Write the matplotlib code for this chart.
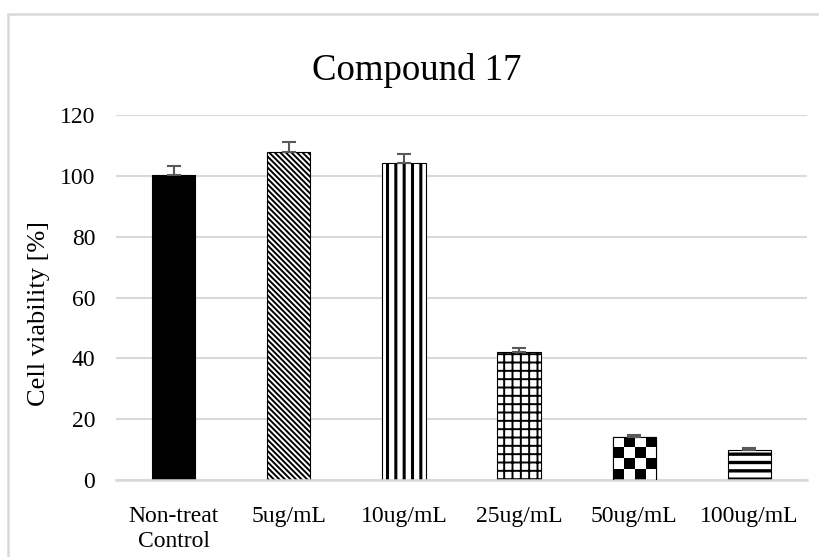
import numpy as np
import matplotlib
matplotlib.use("Agg")
import matplotlib.pyplot as plt
from matplotlib.patches import Rectangle

categories = ["Non-treat\nControl", "5ug/mL", "10ug/mL", "25ug/mL", "50ug/mL", "100ug/mL"]
viability = [100.2, 108.0, 104.2, 42.2, 14.2, 9.9]
errors = [3.0, 3.0, 3.0, 1.3, 0.6, 0.5]
yticks = [0, 20, 40, 60, 80, 100, 120]

plt.rcParams['font.family'] = ['Liberation Serif', 'DejaVu Serif']

W, H = 820, 557
fig = plt.figure(figsize=(W / 100, H / 100), dpi=100)
ax = fig.add_axes([116 / W, 77 / H, 691 / W, 365 / H])

grid_c = '#d9d9d9'
x = np.arange(len(categories))
bar_w = 0.375

hatches = [None, '\\' * 6, '||', '++', None, '--']
hatch_lw = [1, 1.4, 2.2, 1.4, 1, 2.4]
faces = ['black', 'white', 'white', 'white', 'white', 'white']

bars = ax.bar(x, viability, width=bar_w, color=faces, edgecolor='black',
              linewidth=0.8, zorder=2)
for b, h, lw in zip(bars, hatches, hatch_lw):
    if h:
        b.set_hatch(h)
        try:
            b.set_hatch_linewidth(lw)
        except AttributeError:
            plt.rcParams['hatch.linewidth'] = lw

ax.errorbar(x, viability, yerr=[np.zeros(len(errors)), errors], fmt='none',
            ecolor='#595959', elinewidth=1.5, capsize=5, capthick=1.5, zorder=3)

ax.set_xlim(-0.5, len(categories) - 0.5)
ax.set_ylim(0, 120)
ax.set_yticks(yticks)
ax.set_xticks(x)
ax.set_xticklabels(categories, fontsize=17, linespacing=1.2)
ax.tick_params(axis='y', labelsize=17, length=0, pad=15)
ax.tick_params(axis='x', length=0, pad=19)
ax.yaxis.grid(True, color=grid_c, linewidth=1.5, zorder=0)
ax.set_axisbelow(True)
for s in ['top', 'right', 'left']:
    ax.spines[s].set_visible(False)
ax.spines['bottom'].set_color(grid_c)
ax.spines['bottom'].set_linewidth(1.8)
ax.set_ylabel("Cell viability [%]", fontsize=19)
ax.yaxis.set_label_coords((50 - 116) / 691, (480 - 313) / 365)

fig.text(417 / W, 1 - 70 / H, "Compound 17", fontsize=26.5, ha='center', va='center')

# checkerboard fill for the 50ug/mL bar
fig.canvas.draw()
cb = bars[4]
bx0, by0 = cb.get_x(), cb.get_y()
bw, bh = cb.get_width(), cb.get_height()
p0 = ax.transData.transform((bx0, by0))
p1 = ax.transData.transform((bx0 + bw, by0 + bh))
sq = 10.75
nx = max(1, int(round((p1[0] - p0[0]) / sq)))
ny = max(1, int(np.ceil((p1[1] - p0[1]) / sq)))
checker = (np.add.outer(np.arange(ny), np.arange(nx)) % 2).astype(float)
im = ax.imshow(checker, cmap='gray', interpolation='nearest', aspect='auto',
               extent=(bx0, bx0 + bw, by0, by0 + ny * sq * bh / (p1[1] - p0[1])),
               origin='lower', zorder=2.5)
im.set_clip_path(cb)
ax.set_xlim(-0.5, len(categories) - 0.5)
ax.set_ylim(0, 120)
ax.add_patch(Rectangle((bx0, by0), bw, bh, fill=False, edgecolor='black', linewidth=0.8, zorder=2.6))

# figure border (light gray, cropped at right and bottom)
fig.patches.append(Rectangle((8 / W, -0.05), 1.2, 1 - 14 / H + 0.05, transform=fig.transFigure,
                             fill=False, edgecolor=grid_c, linewidth=1.8))

fig.savefig("out.png", dpi=100)
